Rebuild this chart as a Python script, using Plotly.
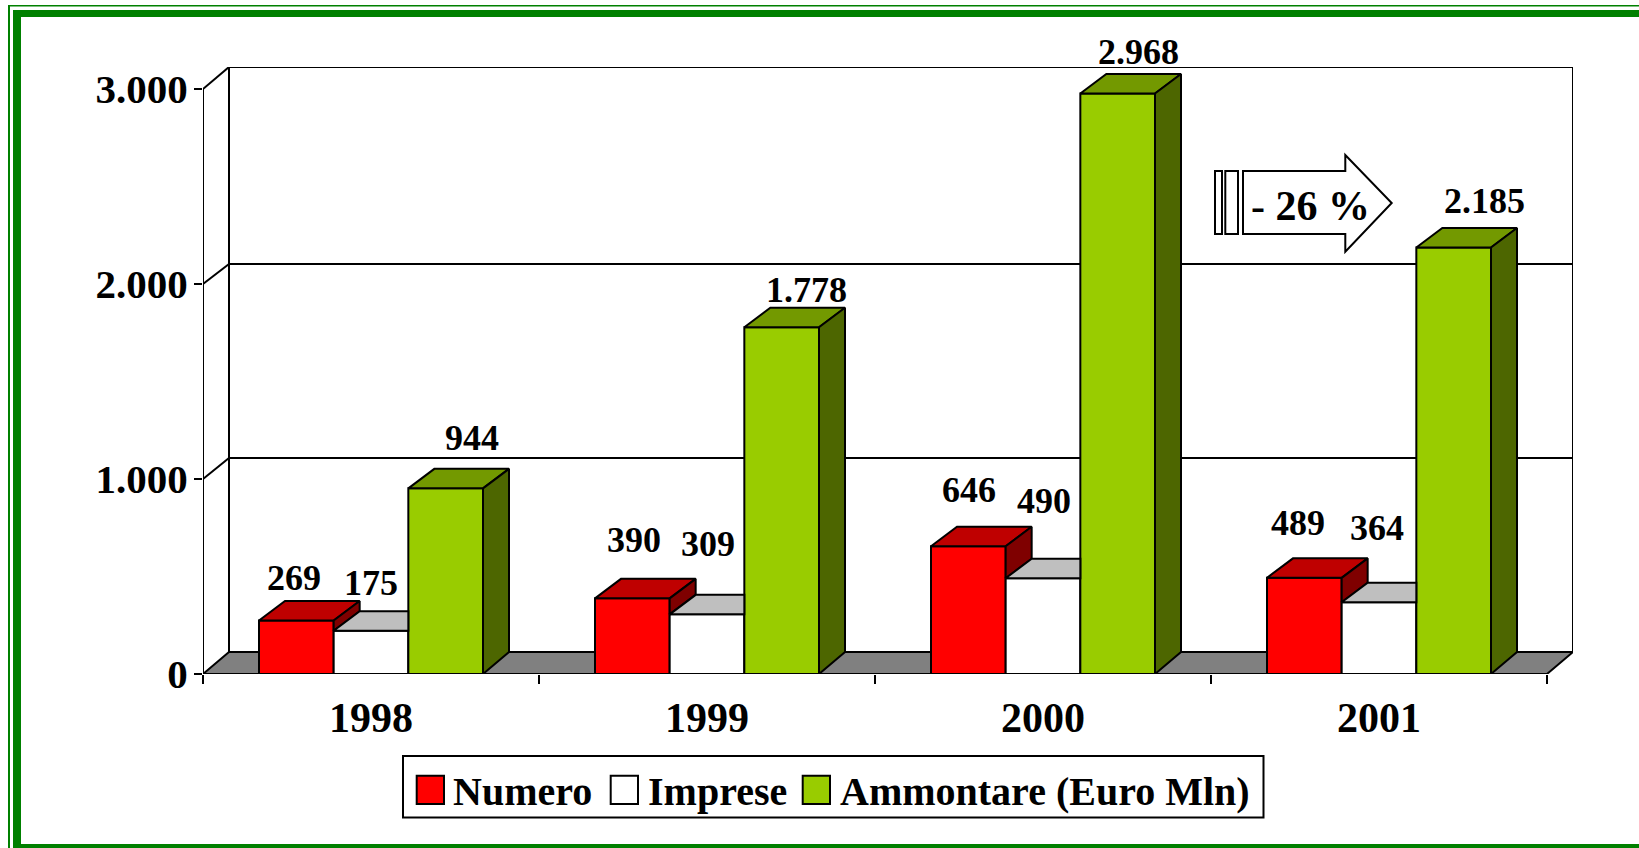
import plotly.graph_objects as go

# ---- data: drawn heights, printed labels as shown ----
YEARS = ["1998", "1999", "2000", "2001"]
SERIES = ["Numero", "Imprese", "Ammontare (Euro Mln)"]
NUMERO = [274, 388, 655, 493]
IMPRESE = [222, 306, 491, 368]
AMMONTARE = [952, 1778, 2977, 2187]
LABELS_NUMERO = ["269", "390", "646", "489"]
LABELS_IMPRESE = ["175", "309", "490", "364"]
LABELS_AMMONTARE = ["944", "1.778", "2.968", "2.185"]
Y_TICKS = [0, 1000, 2000, 3000]
Y_TICK_TEXT = ["0", "1.000", "2.000", "3.000"]
ARROW_TEXT = "- 26 %"

# ---- layout constants ----
W, H = 1639, 848
L, R, T, B = 203, 66, 67, 174
PX_PER_CAT = 336.0
PX_PER_UNIT = 585 / 3000
DX = 26 / PX_PER_CAT
DY_FLOOR = 22 / PX_PER_UNIT
DY_BAR = 19.5 / PX_PER_UNIT
GRID_DY_PX = [22, 21, 20, 22]
FONT = "Liberation Serif"
BLACK = "#000000"
FRONT = ["#FF0000", "#FFFFFF", "#99CC00"]
TOP = ["#BF0000", "#BFBFBF", "#739900"]
SIDE = ["#7F0000", "#7F7F7F", "#4D6600"]
LABEL_CX = [[294, 634, 969, 1298], [371, 708, 1044, 1377], [472, 806.5, 1138, 1484.6]]
LABEL_CY = [[577.5, 539.7, 489.7, 523], [583, 543.7, 501, 527.5], [437.5, 289.5, 51.7, 200.7]]

values = [NUMERO, IMPRESE, AMMONTARE]
labels = [LABELS_NUMERO, LABELS_IMPRESE, LABELS_AMMONTARE]
n_cat = len(YEARS)
gap_w = 1.5
bar_w = 1 / (len(SERIES) + gap_w)
centers = [i + 0.5 for i in range(n_cat)]
PLOT_H = H - T - B


def bold(size):
    return dict(family=FONT, size=size, color=BLACK, weight=700)


def px(x):
    return (x - L) / (W - L - R)


def py(y):
    return 1 - (y - T) / PLOT_H


fig = go.Figure()

# front faces: real grouped bars
for k, name in enumerate(SERIES):
    fig.add_bar(
        x=centers, y=values[k], name=name, showlegend=False, cliponaxis=False,
        marker=dict(color=FRONT[k], line=dict(color=BLACK, width=2)),
    )


def poly(xs, ys, color):
    fig.add_scatter(
        x=xs + xs[:1], y=ys + ys[:1], mode="lines", fill="toself", fillcolor=color,
        line=dict(color=BLACK, width=2), hoverinfo="skip", showlegend=False,
        cliponaxis=False,
    )


# depth faces, derived from the same values; parts hidden by the next bar are left out
for k in range(len(SERIES)):
    for i in range(n_cat):
        v = values[k][i]
        x0 = i + gap_w / 2 * bar_w + k * bar_w
        x1 = x0 + bar_w
        nxt = values[k + 1][i] if k + 1 < len(SERIES) else None
        if nxt is not None and nxt > v:
            poly([x0, x0 + DX, x1, x1], [v, v + DY_BAR, v + DY_BAR, v], TOP[k])
        else:
            poly([x0, x0 + DX, x1 + DX, x1], [v, v + DY_BAR, v + DY_BAR, v], TOP[k])
        if nxt is None:
            poly([x1, x1 + DX, x1 + DX, x1], [v, v + DY_BAR, DY_FLOOR, 0], SIDE[k])
        elif nxt < v:
            poly([x1, x1 + DX, x1 + DX, x1], [v, v + DY_BAR, nxt + DY_BAR, nxt], SIDE[k])

shapes = []


def line(x0, y0, x1, y1, width=2):
    shapes.append(dict(type="line", xref="x", yref="y", x0=x0, y0=y0, x1=x1, y1=y1,
                       line=dict(color=BLACK, width=width), layer="below"))


# floor
shapes.append(dict(
    type="path", xref="x", yref="y", layer="below", fillcolor="#808080",
    line=dict(color=BLACK, width=2),
    path=f"M 0 0 L {DX} {DY_FLOOR} L {n_cat + DX} {DY_FLOOR} L {n_cat} 0 Z",
))
# walls and back gridlines
top = Y_TICKS[-1]
line(0, 0, 0, top)
line(DX, DY_FLOOR, DX, top + DY_FLOOR)
line(n_cat + DX, DY_FLOOR, n_cat + DX, top + DY_FLOOR)
line(0, 0, n_cat, 0)
for t, g in zip(Y_TICKS[1:], GRID_DY_PX[1:]):
    dy = g / PX_PER_UNIT
    line(0, t, DX, t + dy)
    line(DX, t + dy, n_cat + DX, t + dy)


def rect_px(x0, y0, x1, y1, fill, lc=BLACK, lw=2):
    shapes.append(dict(type="rect", xref="paper", yref="paper", x0=px(x0), x1=px(x1),
                       y0=py(y0), y1=py(y1), fillcolor=fill,
                       line=dict(color=lc, width=lw), layer="above"))


# green page frame
G = "#008000"
rect_px(8, 5, 10, H, G, G, 0)
rect_px(8, 5, W, 6.5, G, G, 0)
rect_px(13, 10, 21, H, G, G, 0)
rect_px(13, 10, W, 17, G, G, 0)
rect_px(13, 844, W, H, G, G, 0)

# arrow callout
rect_px(1215, 171, 1222, 234, "#FFFFFF")
rect_px(1225.3, 171, 1238, 234, "#FFFFFF")
arrow_pts = [(1243, 171), (1345.3, 171), (1345.3, 155), (1391.7, 203), (1345.3, 251.7), (1345.3, 234), (1243, 234)]
shapes.append(dict(
    type="path", xref="paper", yref="paper", fillcolor="#FFFFFF", layer="above",
    line=dict(color=BLACK, width=2),
    path="M " + " L ".join(f"{px(a)} {py(b)}" for a, b in arrow_pts) + " Z",
))

# legend box
rect_px(403, 756, 1263.5, 817.5, "#FFFFFF")
SW = [(416.7, 444), (610.7, 638), (802.7, 830)]
TX = [451, 646, 838]
for k in range(len(SERIES)):
    rect_px(SW[k][0], 775.7, SW[k][1], 804, FRONT[k])

annotations = []
for k in range(len(SERIES)):
    for i in range(n_cat):
        x_c = i + gap_w / 2 * bar_w + (k + 0.5) * bar_w
        v = values[k][i]
        annotations.append(dict(
            x=x_c, y=v, xref="x", yref="y", text=labels[k][i], showarrow=False,
            xanchor="center", yanchor="middle",
            xshift=LABEL_CX[k][i] - (L + x_c * PX_PER_CAT),
            yshift=(T + PLOT_H - v * PX_PER_UNIT) - LABEL_CY[k][i],
            font=bold(36),
        ))
    annotations.append(dict(
        x=px(TX[k]), y=py(791), xref="paper", yref="paper", text=SERIES[k], showarrow=False,
        xanchor="left", yanchor="middle", font=bold(40),
    ))
annotations.append(dict(
    x=px(1310.5), y=py(206), xref="paper", yref="paper", text=ARROW_TEXT, showarrow=False,
    xanchor="center", yanchor="middle", font=bold(42),
))

fig.update_layout(
    width=W, height=H, autosize=False, margin=dict(l=L, r=R, t=T, b=B, pad=0),
    paper_bgcolor="#FFFFFF", plot_bgcolor="#FFFFFF",
    barmode="group", bargap=gap_w * bar_w, bargroupgap=0,
    font=dict(family=FONT, color=BLACK),
    shapes=shapes, annotations=annotations, showlegend=False,
    xaxis=dict(
        range=[0, n_cat + DX], tickmode="array", tickvals=centers, ticktext=YEARS,
        ticks="", showgrid=False, zeroline=False, showline=False,
        tickfont=bold(42), ticklabelstandoff=15,
        minor=dict(tickmode="array", tickvals=list(range(n_cat + 1)), ticks="outside",
                   ticklen=9, tickwidth=2, tickcolor=BLACK, showgrid=False),
    ),
    yaxis=dict(
        range=[0, top + DY_FLOOR], tickmode="array", tickvals=Y_TICKS, ticktext=Y_TICK_TEXT,
        ticks="outside", ticklen=8, tickwidth=2, tickcolor=BLACK,
        showgrid=False, zeroline=False, showline=False,
        tickfont=bold(41), ticklabelstandoff=-2,
    ),
)
fig.write_html(
    "out.html",
    config={"displayModeBar": False},
    post_script="document.body.style.margin='0';document.documentElement.style.overflow='hidden';",
)
